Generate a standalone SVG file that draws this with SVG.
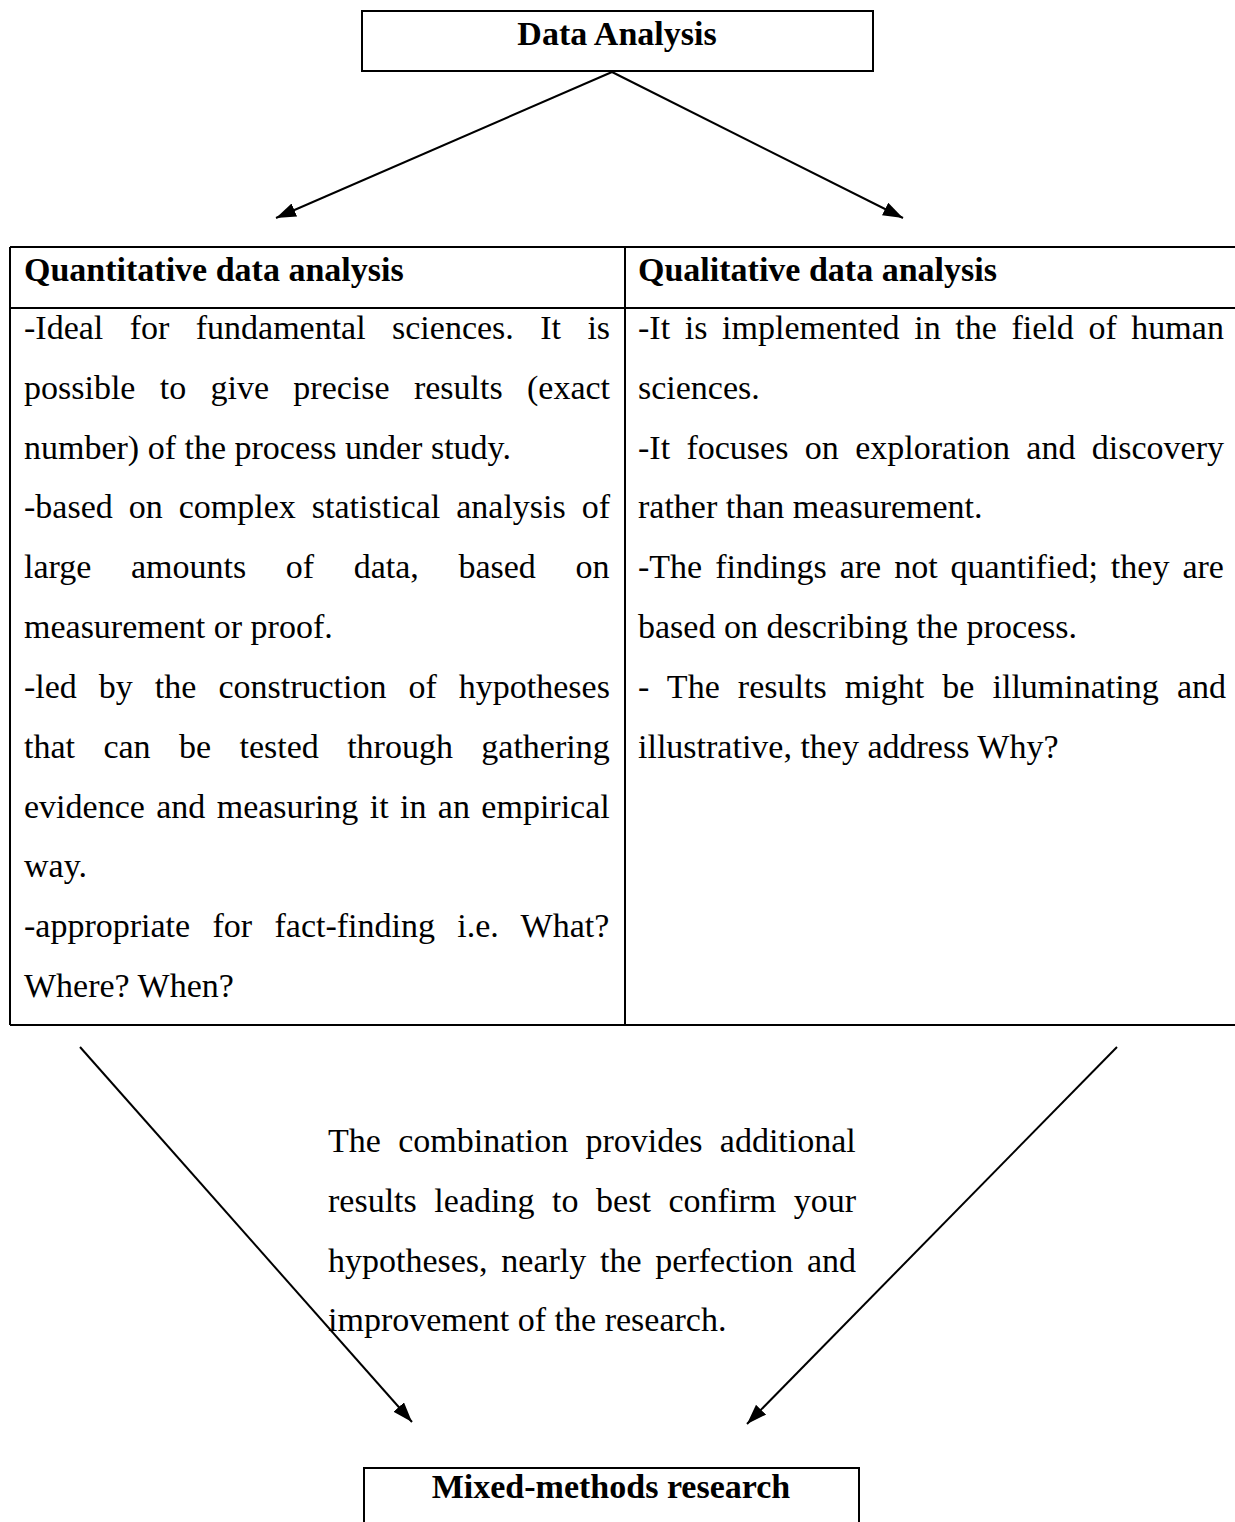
<svg xmlns="http://www.w3.org/2000/svg" width="1235" height="1522" viewBox="0 0 1235 1522">
<style>
.t{font-family:"Liberation Serif","Times New Roman",serif;font-size:34px;fill:#000}
.b{font-weight:bold}
.ln{stroke:#000;stroke-width:2;fill:none}
</style>
<defs>
<marker id="ah" markerUnits="userSpaceOnUse" markerWidth="22" markerHeight="16" refX="20" refY="7" orient="auto">
<path d="M0,0 L20,7 L0,14 z" fill="#000"/>
</marker>
</defs>
<rect width="1235" height="1522" fill="#fff"/>
<g id="connectors">
<line class="ln" x1="612" y1="72" x2="276" y2="218" marker-end="url(#ah)"/>
<line class="ln" x1="612" y1="72" x2="903" y2="218" marker-end="url(#ah)"/>
<line class="ln" x1="80" y1="1047" x2="412" y2="1422" marker-end="url(#ah)"/>
<line class="ln" x1="1117" y1="1047" x2="747" y2="1424" marker-end="url(#ah)"/>
</g>
<g id="data-analysis">
<rect class="ln" x="362" y="11" width="511" height="60"/>
<text class="t b" x="617" y="45" text-anchor="middle">Data Analysis</text>
</g>
<g id="table">
<path class="ln" d="M10,247 H1235 M10,308 H1235 M10,1025 H1235 M10,247 V1025 M625,247 V1025"/>
</g>
<g id="quantitative">
<text class="t b" x="24" y="281">Quantitative data analysis</text>
<text class="t" x="24" y="339" word-spacing="17.9">-Ideal for fundamental sciences. It is</text>
<text class="t" x="24" y="399" word-spacing="15.8">possible to give precise results (exact</text>
<text class="t" x="24" y="459">number) of the process under study.</text>
<text class="t" x="24" y="518" word-spacing="7.5">-based on complex statistical analysis of</text>
<text class="t" x="24" y="578" word-spacing="31.1">large amounts of data, based on</text>
<text class="t" x="24" y="638">measurement or proof.</text>
<text class="t" x="24" y="698" word-spacing="13.5">-led by the construction of hypotheses</text>
<text class="t" x="24" y="758" word-spacing="19.9">that can be tested through gathering</text>
<text class="t" x="24" y="818" word-spacing="2.9">evidence and measuring it in an empirical</text>
<text class="t" x="24" y="877">way.</text>
<text class="t" x="24" y="937" word-spacing="13.85">-appropriate for fact-finding i.e. What?</text>
<text class="t" x="24" y="997">Where? When?</text>
</g>
<g id="qualitative">
<text class="t b" x="638" y="281">Qualitative data analysis</text>
<text class="t" x="638" y="339" word-spacing="6.14">-It is implemented in the field of human</text>
<text class="t" x="638" y="399">sciences.</text>
<text class="t" x="638" y="459" word-spacing="7.86">-It focuses on exploration and discovery</text>
<text class="t" x="638" y="518">rather than measurement.</text>
<text class="t" x="638" y="578" word-spacing="4.5">-The findings are not quantified; they are</text>
<text class="t" x="638" y="638">based on describing the process.</text>
<text class="t" x="638" y="698" word-spacing="9.65">- The results might be illuminating and</text>
<text class="t" x="638" y="758">illustrative, they address Why?</text>
</g>
<g id="combination-note">
<text class="t" x="328" y="1152" word-spacing="8.8">The combination provides additional</text>
<text class="t" x="328" y="1212" word-spacing="9.1">results leading to best confirm your</text>
<text class="t" x="328" y="1272" word-spacing="5.25">hypotheses, nearly the perfection and</text>
<text class="t" x="328" y="1331">improvement of the research.</text>
</g>
<g id="mixed-methods">
<path class="ln" d="M364,1522 V1468 H859 V1522"/>
<text class="t b" x="611" y="1498" text-anchor="middle">Mixed-methods research</text>
</g>
</svg>
